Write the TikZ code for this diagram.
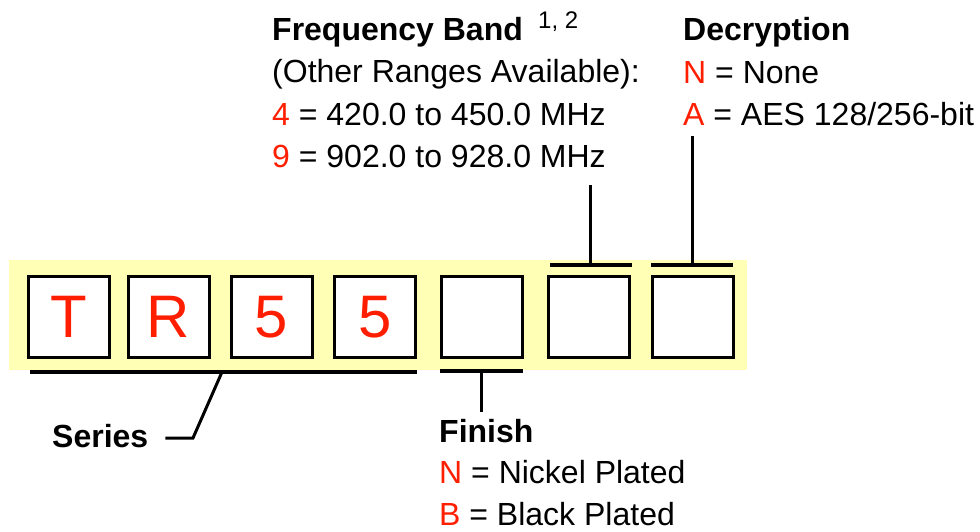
\documentclass[tikz,border=0pt]{standalone}
\usepackage{fontspec}
\setmainfont{Liberation Sans}
\definecolor{codered}{RGB}{255,30,0}
\definecolor{bandyellow}{RGB}{255,255,182}
\begin{document}
\begin{tikzpicture}[x=1pt,y=-1pt,
  digit/.style={draw=black,line width=3pt,fill=white,minimum size=81pt,inner sep=0pt,
    text=codered,font=\fontsize{60}{60}\selectfont},
  bar/.style={line width=3.5pt},
  lead/.style={line width=3pt},
  txt/.style={anchor=base west,inner sep=0pt,font=\fontsize{32}{38}\selectfont},
  head/.style={txt,font=\fontsize{32}{38}\selectfont\bfseries},
  code/.style={text=codered}]
\useasboundingbox (0,0) rectangle (980,531);
\fill[bandyellow] (9,260) rectangle (747,370);
% code boxes
\node[digit] (b1) at (69,317) {T};
\node[digit] (b2) at (168.5,317) {R};
\node[digit] (b3) at (271.5,317) {5};
\node[digit] (b4) at (375,317) {5};
\node[digit] (b5) at (481.5,317) {};
\node[digit] (b6) at (588.5,317) {};
\node[digit] (b7) at (692.5,317) {};
% series
\coordinate (s1) at (30,372);
\coordinate (s2) at (417,372);
\coordinate (sj) at (222,372);
\coordinate (sk) at (193,438);
\node[head] (series) at (52,447) {Series};
\draw[bar] (s1) -- (s2);
\draw[lead] (sj) -- (sk) -- ([xshift=17pt]series.east |- sk);
% finish
\coordinate (f1) at (440,371);
\coordinate (f2) at (523,371);
\coordinate (fj) at (481,371);
\node[head] (finish) at (439,442) {Finish};
\node[txt] (fin1) at (439,483) {\textcolor{codered}{N} = Nickel Plated};
\node[txt] (fin2) at (439,525) {\textcolor{codered}{B} = Black Plated};
\draw[bar] (f1) -- (f2);
\draw[lead] (fj) -- (fj |- 0,412);
% frequency band
\node[head] (freq) at (272,40) {Frequency Band};
\node[anchor=base west,inner sep=0pt,font=\fontsize{24}{28}\selectfont] (fsup) at (538,28) {1, 2};
\node[txt] (freq1) at (272,82) {(Other Ranges Available):};
\node[txt] (freq2) at (272,125) {\textcolor{codered}{4} = 420.0 to 450.0 MHz};
\node[txt] (freq3) at (272,167) {\textcolor{codered}{9} = 902.0 to 928.0 MHz};
\coordinate (q1) at (550,265);
\coordinate (q2) at (632,265);
\coordinate (qj) at (590,265);
\coordinate (qt) at (590,185);
\draw[bar] (q1) -- (q2);
\draw[lead] (qj) -- (qt);
% decryption
\node[head] (dec) at (683,40) {Decryption};
\node[txt] (dec1) at (683,83) {\textcolor{codered}{N} = None};
\node[txt] (dec2) at (683,125) {\textcolor{codered}{A} = AES 128/256-bit};
\coordinate (d1) at (651,265);
\coordinate (d2) at (733,265);
\coordinate (dj) at (692,265);
\coordinate (dt) at (692,136);
\draw[bar] (d1) -- (d2);
\draw[lead] (dj) -- (dt);
\end{tikzpicture}
\end{document}
